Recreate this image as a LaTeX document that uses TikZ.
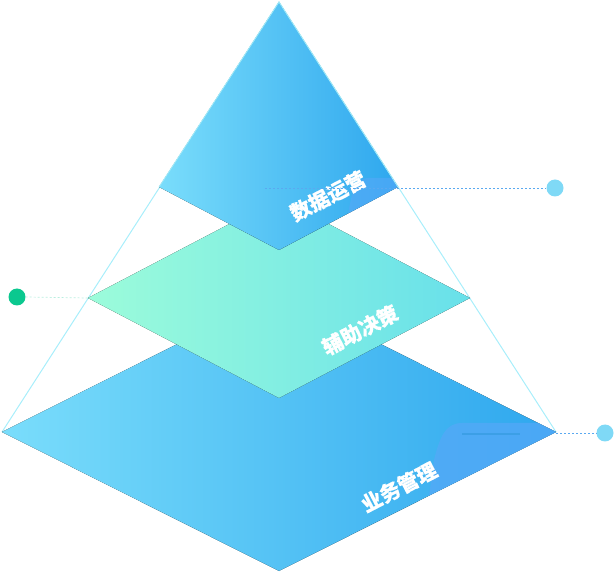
\documentclass[tikz,border=0pt]{standalone}
\usepackage{fontspec}
\newfontfamily\cjk{Noto Sans CJK SC}[BoldFeatures={FakeBold=0.3}]
\definecolor{blueL}{HTML}{7ADDFB}
\definecolor{blueR}{HTML}{2EA7EE}
\definecolor{greenL}{HTML}{9CFCDA}
\definecolor{greenR}{HTML}{68E0EA}
\definecolor{outline}{HTML}{A8EEFB}
\definecolor{patch}{HTML}{56A8F8}
\definecolor{dotblue}{HTML}{7FD9F6}
\definecolor{dotgreen}{HTML}{0BC88F}
\definecolor{guideblue}{HTML}{5AA9F0}
\definecolor{guidegreen}{HTML}{B8EEDF}
\definecolor{inline}{HTML}{3C9FE6}
\tikzset{
  edge/.style={draw=outline, line width=1pt},
  label/.style={font=\cjk\bfseries\fontsize{20.5}{20.5}\selectfont, text=white, rotate=27.5, inner sep=0pt},
  dotnode/.style={circle, minimum size=17pt, inner sep=0pt},
  guide/.style={line width=0.7pt, dash pattern=on 2pt off 2pt},
}
\begin{document}
\begin{tikzpicture}[x=1pt,y=-1pt]
\useasboundingbox (0,0) rectangle (614,572);
% vertices
\coordinate (apex) at (279,2);
\coordinate (tL) at (159,187);
\coordinate (tR) at (398,187);
\coordinate (tB) at (279,250);
\coordinate (mL) at (88,298);
\coordinate (mR) at (470,298);
\coordinate (mT) at (279,198);
\coordinate (mB) at (279,398);
\coordinate (bL) at (2,432);
\coordinate (bR) at (556,432);
\coordinate (bT) at (279,293);
\coordinate (bB) at (279,571);
% outline of the pyramid
\draw[edge] (bL) -- (apex) -- (bR);
% bottom layer
\fill[left color=blueL, right color=blueR] (bL) -- (bT) -- (bR) -- (bB) -- cycle;
\begin{scope}
  \clip (bL) -- (bT) -- (bR) -- (bB) -- cycle;
  \fill[patch, opacity=0.7] (600,423) -- (462,423) .. controls (446,423) and (440,436) .. (434,460) -- (420,560) -- (600,560) -- cycle;
\end{scope}
\draw[inline, line width=1.2pt] (462,434) -- (520,434);
% middle layer
\fill[left color=greenL, right color=greenR] (mL) -- (mT) -- (mR) -- (mB) -- cycle;
% top layer
\fill[left color=blueL, right color=blueR] (apex) -- (tR) -- (tB) -- (tL) -- cycle;
\begin{scope}
  \clip (apex) -- (tR) -- (tB) -- (tL) -- cycle;
  \fill[patch, opacity=0.6] (420,178) -- (368,178) .. controls (356,178) and (352,190) .. (348,215) -- (344,260) -- (420,260) -- cycle;
\end{scope}
\draw[outline, line width=0.8pt] (tL) -- (apex) -- (tR);
% labels
\node[label] (t1) at (328,196) {数据运营};
\node[label] (t2) at (360,330) {辅助决策};
\node[label] (t3) at (399,487) {业务管理};
% dots and guide lines
\node[dotnode, fill=dotblue] (d1) at (555,188) {};
\node[dotnode, fill=dotgreen] (d2) at (17,297) {};
\node[dotnode, fill=dotblue] (d3) at (605,433) {};
\coordinate (g1) at (265,188);
\coordinate (g3) at (556,433);
\draw[guide, draw=guideblue] (g1) -- (d1.west);
\draw[guide, draw=guidegreen] (d2.east) -- (mL);
\draw[guide, draw=guideblue] (g3) -- (d3.west);
\end{tikzpicture}
\end{document}
